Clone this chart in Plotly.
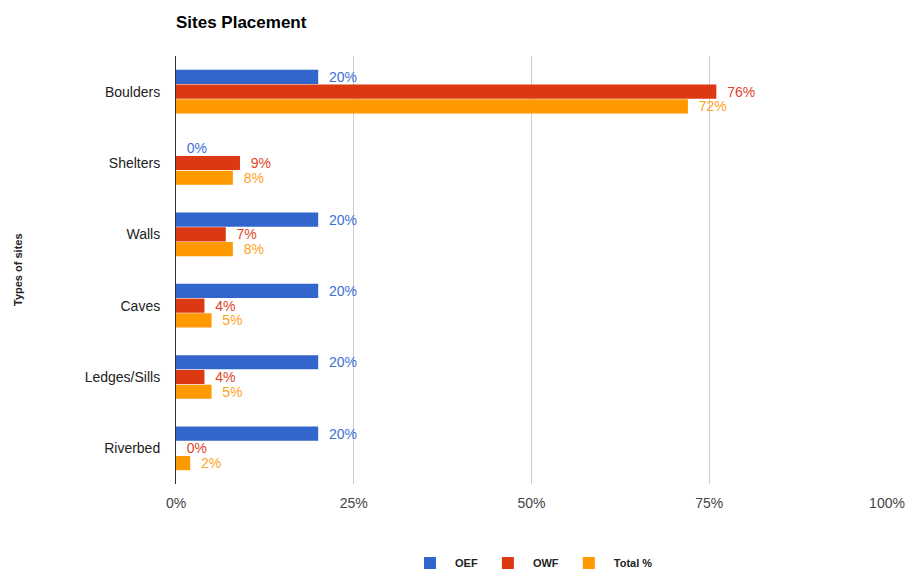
import plotly.graph_objects as go

categories = ["Boulders", "Shelters", "Walls", "Caves", "Ledges/Sills", "Riverbed"]
series_names = ["OEF", "OWF", "Total %"]
oef = [20, 0, 20, 20, 20, 20]
owf = [76, 9, 7, 4, 4, 0]
total = [72, 8, 8, 5, 5, 2]
x_ticks = [0, 25, 50, 75, 100]
x_tick_labels = ["0%", "25%", "50%", "75%", "100%"]

colors = ["#3366cc", "#dc3912", "#ff9900"]
label_colors = ["#3d6fd4", "#e0452a", "#ffa21f"]

fig = go.Figure()
for name, vals, c, lc in zip(series_names, [oef, owf, total], colors, label_colors):
    fig.add_trace(go.Bar(
        y=categories, x=vals, name=name, orientation="h",
        marker=dict(color=c, line=dict(width=0)),
        text=["  %d%%" % v for v in vals],
        textposition="outside",
        constraintext="none",
        textfont=dict(color=lc, size=14, family="Liberation Sans, Arial"),
        cliponaxis=False,
        hoverinfo="skip",
    ))

fig.update_layout(
    width=906, height=570,
    margin=dict(l=176, r=19, t=56, b=86),
    paper_bgcolor="white", plot_bgcolor="white",
    barmode="group", bargap=0.38, bargroupgap=0.04,
    font=dict(family="Liberation Sans, Arial", size=14, color="#222222"),
    title=dict(text="<b>Sites Placement</b>", x=176/906, xanchor="left",
               y=1 - 22/570, yanchor="middle",
               font=dict(size=17, color="#000000")),
    xaxis=dict(range=[0, 100], tickvals=x_ticks, ticktext=x_tick_labels,
               showgrid=True, gridcolor="#cccccc", gridwidth=1,
               zeroline=False, showline=False, ticks="",
               ticklabelstandoff=9,
               tickfont=dict(size=14, color="#444444"),
               automargin=False),
    yaxis=dict(autorange="reversed", showline=True, linecolor="#333333",
               linewidth=1, ticks="", ticklabelstandoff=12,
               tickfont=dict(size=14, color="#222222"),
               automargin=False),
    legend=dict(orientation="h", x=0.5, xanchor="center",
                yref="container", y=1 - 563/570, yanchor="middle",
                font=dict(size=11, color="#222222", family="Liberation Sans, Arial", weight="bold"),
                traceorder="normal", itemwidth=40),
    showlegend=True,
    annotations=[dict(text="<b>Types of sites</b>", textangle=-90,
                      xref="paper", yref="paper", x=(18 - 176) / 711, y=0.5,
                      xanchor="center", yanchor="middle", showarrow=False,
                      font=dict(size=11, color="#222222"))],
)

fig.write_html("out.html", config={"displayModeBar": False})
with open("out.html", "r", encoding="utf-8") as f:
    html = f.read()
html = html.replace("<head>", "<head><style>html,body{margin:0;padding:0;}</style>", 1)
with open("out.html", "w", encoding="utf-8") as f:
    f.write(html)
